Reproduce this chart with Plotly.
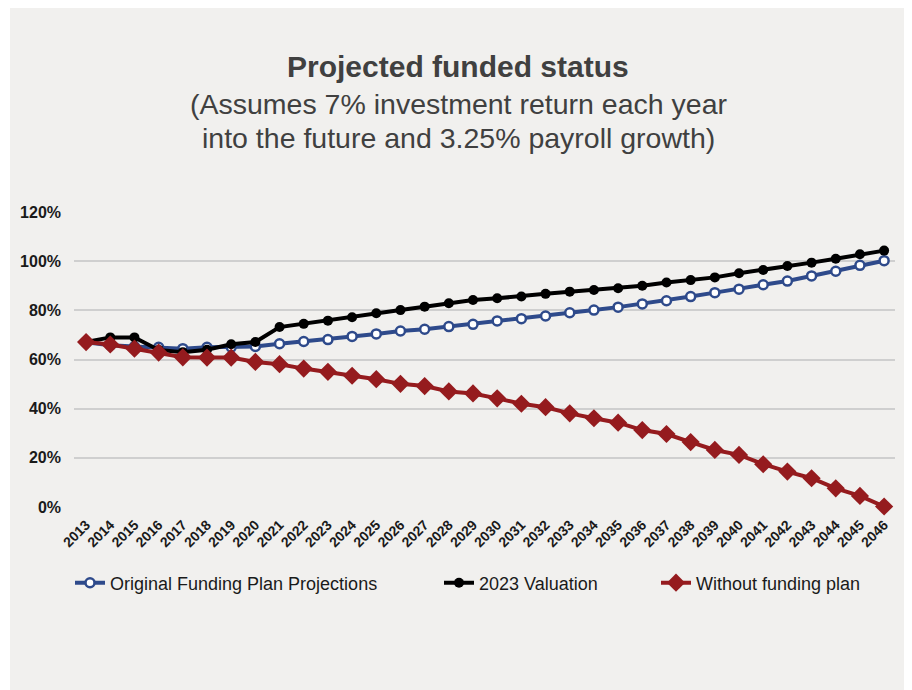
import plotly.graph_objects as go

years = list(range(2013, 2047))
tick_labels = [str(y) for y in years]

original_plan = [67.0, 65.8, 65.3, 65.0, 64.4, 65.0, 65.0, 65.3, 66.4, 67.3, 68.1, 69.4,
                 70.4, 71.6, 72.3, 73.4, 74.3, 75.7, 76.6, 77.7, 79.0, 80.1, 81.3, 82.6,
                 83.9, 85.6, 87.2, 88.6, 90.4, 91.9, 94.0, 95.9, 98.3, 100.2]
valuation_2023 = [67.1, 69.0, 69.0, 63.9, 63.0, 64.0, 66.2, 67.1, 73.2, 74.5, 75.8, 77.2,
                  78.8, 80.1, 81.5, 82.9, 84.2, 84.9, 85.6, 86.7, 87.6, 88.3, 89.0, 90.0,
                  91.3, 92.3, 93.4, 95.1, 96.4, 98.0, 99.4, 101.0, 102.8, 104.3]
without_plan = [67.1, 66.1, 64.4, 62.8, 60.9, 60.8, 60.8, 59.0, 58.1, 56.3, 55.0, 53.4,
                52.0, 50.1, 49.2, 47.0, 46.2, 44.2, 42.0, 40.6, 38.1, 36.1, 34.3, 31.3,
                29.7, 26.4, 23.2, 21.2, 17.4, 14.4, 11.7, 7.6, 4.5, 0.2]

y_ticks = [0, 20, 40, 60, 80, 100, 120]
y_tick_labels = ["0%", "20%", "40%", "60%", "80%", "100%", "120%"]

BLUE = "#2E4A8B"
BLACK = "#000000"
RED = "#951B1E"
PANEL = "#F1F0EE"

# page body has an 8px margin; figure is laid out in page pixels minus this offset
OFF = 8
FW, FH = 912 - OFF, 690 - OFF
L, R, T, B = 74 - OFF, FW - (895 - OFF), 212 - OFF, FH - (507 - OFF)
W = FW - L - R
H = FH - T - B


def px_x(p):
    return (p - OFF - L) / W


def px_y(p):
    return 1 - (p - OFF - T) / H


fig = go.Figure()
fig.add_trace(go.Scatter(
    x=years, y=original_plan, name="Original Funding Plan Projections",
    mode="lines+markers", cliponaxis=False, legend="legend",
    line=dict(color=BLUE, width=4),
    marker=dict(symbol="circle", size=9, color="white", line=dict(color=BLUE, width=2.5)),
))
fig.add_trace(go.Scatter(
    x=years, y=valuation_2023, name="2023 Valuation",
    mode="lines+markers", cliponaxis=False, legend="legend2",
    line=dict(color=BLACK, width=4),
    marker=dict(symbol="circle", size=10, color=BLACK),
))
fig.add_trace(go.Scatter(
    x=years, y=without_plan, name="Without funding plan",
    mode="lines+markers", cliponaxis=False, legend="legend3",
    line=dict(color=RED, width=4),
    marker=dict(symbol="diamond", size=14, color=RED),
))

fig.add_shape(type="rect", xref="paper", yref="paper",
              x0=px_x(10), x1=px_x(909), y0=px_y(700), y1=px_y(0),
              fillcolor=PANEL, line=dict(width=0), layer="below")

title_font = "Arial, Liberation Sans, sans-serif"
fig.add_annotation(text="<b>Projected funded status</b>", xref="paper", yref="paper",
                   x=px_x(458), y=px_y(66), xanchor="center", yanchor="middle",
                   showarrow=False, font=dict(family=title_font, size=30, color="#404040"))
fig.add_annotation(text="(Assumes 7% investment return each year", xref="paper", yref="paper",
                   x=px_x(458), y=px_y(104), xanchor="center", yanchor="middle",
                   showarrow=False, font=dict(family=title_font, size=28.5, color="#404040"))
fig.add_annotation(text="into the future and 3.25% payroll growth)", xref="paper", yref="paper",
                   x=px_x(458), y=px_y(138), xanchor="center", yanchor="middle",
                   showarrow=False, font=dict(family=title_font, size=28.5, color="#404040"))

legend_common = dict(orientation="h", yanchor="middle", xanchor="left",
                     font=dict(size=18, color="#1a1a1a"), bgcolor="rgba(0,0,0,0)",
                     itemwidth=30)
fig.update_layout(
    width=FW, height=FH,
    margin=dict(l=L, r=R, t=T, b=B),
    paper_bgcolor="white",
    plot_bgcolor="rgba(0,0,0,0)",
    font=dict(family="Arial, Liberation Sans, sans-serif", color="#1a1a1a"),
    showlegend=True,
    legend=dict(x=px_x(70), y=px_y(583), **legend_common),
    legend2=dict(x=px_x(439), y=px_y(583), **legend_common),
    legend3=dict(x=px_x(656), y=px_y(583), **legend_common),
)
fig.update_xaxes(
    range=[2012.5, 2046.45],
    tickmode="array", tickvals=years, ticktext=["<b>%s</b>" % t for t in tick_labels],
    tickangle=-45, tickfont=dict(size=14, color="#1a1a1a", family="Arial, sans-serif"),
    showgrid=False, zeroline=False, showline=False, ticks="", ticklabelstandoff=6,
)
fig.update_yaxes(
    range=[0, 120], tickvals=y_ticks,
    ticktext=["<b>%s</b>" % t for t in y_tick_labels],
    tickfont=dict(size=16, color="#1a1a1a"),
    showgrid=True, gridcolor="#CFCFCF", gridwidth=1.5,
    zeroline=False, showline=False, ticks="", ticklabelstandoff=12,
)

fig.write_html("out.html")
